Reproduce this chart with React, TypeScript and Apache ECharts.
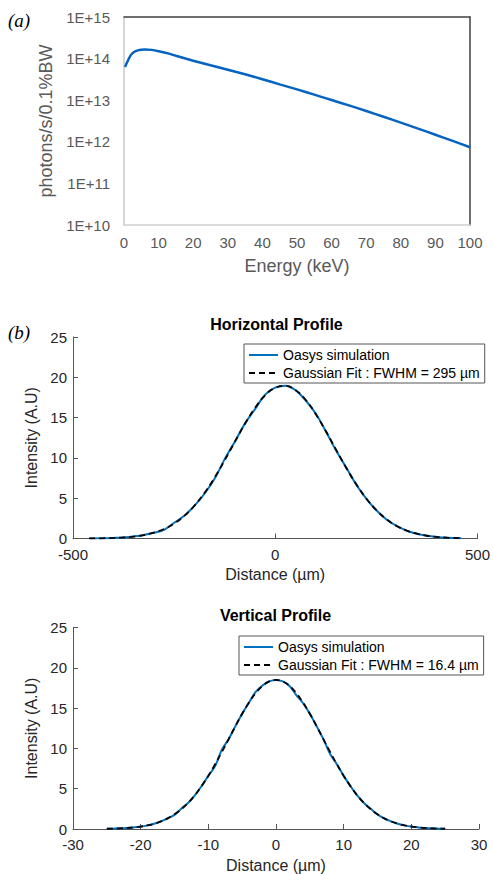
import React, { useEffect, useRef } from 'react';
import * as echarts from 'echarts';

// (a) photon spectrum
const energyKeV = [0.3, 1, 2, 3, 4, 5, 6, 8, 10, 13, 15, 20, 25, 30, 35, 40, 45, 50, 55, 60, 65, 70, 75, 80, 85, 90, 95, 100];
const flux = [6.3e13, 8.5e13, 1.23e14, 1.46e14, 1.58e14, 1.64e14, 1.66e14, 1.62e14, 1.51e14, 1.32e14, 1.17e14, 8.9e13, 6.9e13, 5.4e13, 4.2e13, 3.2e13, 2.4e13, 1.82e13, 1.36e13, 1.01e13, 7.5e12, 5.5e12, 4.0e12, 2.9e12, 2.07e12, 1.48e12, 1.05e12, 7.4e11];

// (b) horizontal profile
const hDist = [-460, -425, -400, -375, -350, -325, -300, -275, -250, -225, -200, -175, -150, -125, -100, -75, -50, -25, 0, 25, 50, 75, 100, 125, 150, 175, 200, 225, 250, 275, 300, 325, 350, 375, 400, 425, 460];
const hSim = [0.01, 0.03, 0.07, 0.13, 0.25, 0.43, 0.72, 1.08, 1.95, 2.82, 4.05, 5.55, 7.40, 9.85, 12.0, 14.25, 16.05, 17.85, 18.72, 18.95, 18.40, 17.15, 15.50, 13.30, 10.95, 8.85, 6.70, 4.95, 3.50, 2.36, 1.56, 0.98, 0.59, 0.34, 0.19, 0.10, 0.04];
const hFit = [0.01, 0.03, 0.07, 0.13, 0.24, 0.43, 0.73, 1.18, 1.85, 2.80, 4.06, 5.64, 7.55, 9.70, 11.98, 14.22, 16.21, 17.77, 18.71, 18.93, 18.42, 17.21, 15.45, 13.33, 11.06, 8.81, 6.76, 4.97, 3.52, 2.39, 1.56, 0.98, 0.59, 0.34, 0.19, 0.10, 0.04];

// (b) vertical profile
const vDist = [-25, -24, -23, -22, -21, -20, -19, -18, -17, -16, -15, -14, -13, -12, -11, -10, -9, -8, -7, -6, -5, -4, -3, -2, -1, 0, 1, 2, 3, 4, 5, 6, 7, 8, 9, 10, 11, 12, 13, 14, 15, 16, 17, 18, 19, 20, 21, 22, 23, 24, 25];
const vSim = [0.03, 0.05, 0.08, 0.13, 0.20, 0.30, 0.45, 0.65, 0.94, 1.32, 1.76, 2.52, 3.23, 4.18, 5.32, 6.59, 7.80, 9.85, 11.15, 12.76, 14.30, 15.68, 17.00, 17.80, 18.31, 18.50, 18.31, 17.75, 16.62, 15.60, 14.30, 12.76, 11.15, 9.30, 8.03, 6.59, 5.32, 4.18, 3.23, 2.50, 1.80, 1.32, 0.94, 0.65, 0.45, 0.30, 0.20, 0.13, 0.08, 0.05, 0.03];
const vFit = [0.03, 0.05, 0.08, 0.13, 0.20, 0.30, 0.45, 0.65, 0.94, 1.32, 1.82, 2.45, 3.23, 4.18, 5.32, 6.59, 8.03, 9.56, 11.15, 12.76, 14.30, 15.68, 16.86, 17.75, 18.31, 18.50, 18.31, 17.75, 16.86, 15.68, 14.30, 12.76, 11.15, 9.56, 8.03, 6.59, 5.32, 4.18, 3.23, 2.45, 1.82, 1.32, 0.94, 0.65, 0.45, 0.30, 0.20, 0.13, 0.08, 0.05, 0.03];

const simName = 'Oasys simulation';
const hFitName = 'Gaussian Fit : FWHM = 295 µm';
const vFitName = 'Gaussian Fit : FWHM = 16.4 µm';

export default function App() {
  const ref = useRef<HTMLDivElement>(null);
  useEffect(() => {
    const chart = echarts.init(ref.current!, null, { renderer: 'svg' });
    const font = '"Liberation Sans", Arial, sans-serif';
    const xlGray = '#595959';
    const mAxis = '#555555';
    const mText = '#262626';

    const profileX = (gridIndex: number, min: number, max: number, interval: number) => ({
      gridIndex, type: 'value', min, max, interval,
      axisLine: { show: true, onZero: false, lineStyle: { color: mAxis, width: 1 } },
      axisTick: { show: true, inside: true, length: 5, lineStyle: { color: mAxis } },
      axisLabel: { color: mText, fontSize: 15, fontFamily: font, margin: 8 },
      splitLine: { show: false },
      name: 'Distance (µm)', nameLocation: 'middle', nameGap: 28,
      nameTextStyle: { color: mText, fontSize: 16, fontFamily: font },
    });
    const profileY = (gridIndex: number) => ({
      gridIndex, type: 'value', min: 0, max: 25, interval: 5,
      axisLine: { show: true, onZero: false, lineStyle: { color: mAxis, width: 1 } },
      axisTick: { show: true, inside: true, length: 5, lineStyle: { color: mAxis } },
      axisLabel: { color: mText, fontSize: 15, fontFamily: font, margin: 6 },
      splitLine: { show: false },
      name: 'Intensity (A.U)', nameLocation: 'middle', nameGap: 25,
      nameTextStyle: { color: mText, fontSize: 16, fontFamily: font },
    });
    const legendBase = {
      orient: 'vertical', selectedMode: false,
      backgroundColor: '#fff', borderColor: '#555', borderWidth: 1,
      padding: [4, 5, 3, 4], itemGap: 4, itemWidth: 29, itemHeight: 14,
      itemStyle: { opacity: 0 },
      textStyle: { color: '#000', fontSize: 14, fontFamily: font, lineHeight: 14 },
    };
    const fitLine = { color: '#000', width: 1.8, type: [6, 4] };

    const option: any = {
      animation: false,
      backgroundColor: '#fff',
      grid: [
        { left: 124, top: 17, width: 346, height: 208 },
        { left: 73, top: 337, width: 407, height: 201.5 },
        { left: 73, top: 627.5, width: 406, height: 202 },
      ],
      xAxis: [
        {
          gridIndex: 0, type: 'value', min: 0, max: 100, interval: 10,
          axisLine: { show: true, onZero: false, lineStyle: { color: '#d0d0d0', width: 1.5 } },
          axisTick: { show: false },
          axisLabel: { color: xlGray, fontSize: 15, fontFamily: font, margin: 10 },
          splitLine: { show: false },
          name: 'Energy (keV)', nameLocation: 'middle', nameGap: 32,
          nameTextStyle: { color: xlGray, fontSize: 18, fontFamily: font },
        },
        {
          gridIndex: 0, type: 'value', position: 'top', min: 0, max: 100,
          axisLine: { show: true, onZero: false, lineStyle: { color: '#404040', width: 1.5 } },
          axisTick: { show: false }, axisLabel: { show: false }, splitLine: { show: false },
        },
        profileX(1, -500, 500, 500),
        profileX(2, -30, 30, 10),
      ],
      yAxis: [
        {
          gridIndex: 0, type: 'log', logBase: 10, min: 1e10, max: 1e15,
          axisLine: { show: true, onZero: false, lineStyle: { color: '#c8c8c8', width: 1.5 } },
          axisTick: { show: false },
          axisLabel: {
            color: xlGray, fontSize: 15, fontFamily: font, margin: 14,
            formatter: (v: number) => '1E+' + Math.round(Math.log10(v)),
          },
          splitLine: { show: false },
          name: 'photons/s/0.1%BW', nameLocation: 'middle', nameGap: 64,
          nameTextStyle: { color: xlGray, fontSize: 18, fontFamily: font },
        },
        {
          gridIndex: 0, type: 'value', position: 'right', min: 0, max: 1,
          axisLine: { show: true, onZero: false, lineStyle: { color: '#404040', width: 1.5 } },
          axisTick: { show: false }, axisLabel: { show: false }, splitLine: { show: false },
        },
        profileY(1),
        profileY(2),
      ],
      legend: [
        { ...legendBase, data: [simName, hFitName], left: 244, top: 344 },
        { ...legendBase, data: [simName, vFitName], left: 239, top: 636 },
      ],
      series: [
        {
          type: 'line', xAxisIndex: 0, yAxisIndex: 0, symbol: 'none', smooth: 0.3,
          data: energyKeV.map((e, i) => [e, flux[i]]),
          lineStyle: { color: '#0563C1', width: 2.5 },
        },
        {
          name: simName, type: 'line', xAxisIndex: 2, yAxisIndex: 2, symbol: 'none', smooth: 0.4,
          data: hDist.map((d, i) => [d, hSim[i]]),
          itemStyle: { color: '#0072BD' },
          lineStyle: { color: '#0072BD', width: 2 },
        },
        {
          name: hFitName, type: 'line', xAxisIndex: 2, yAxisIndex: 2, symbol: 'none', smooth: 0.4, z: 3,
          data: hDist.map((d, i) => [d, hFit[i]]),
          itemStyle: { color: '#000' },
          lineStyle: fitLine,
        },
        {
          name: simName, type: 'line', xAxisIndex: 3, yAxisIndex: 3, symbol: 'none', smooth: 0.4,
          data: vDist.map((d, i) => [d, vSim[i]]),
          itemStyle: { color: '#0072BD' },
          lineStyle: { color: '#0072BD', width: 2 },
        },
        {
          name: vFitName, type: 'line', xAxisIndex: 3, yAxisIndex: 3, symbol: 'none', smooth: 0.4, z: 3,
          data: vDist.map((d, i) => [d, vFit[i]]),
          itemStyle: { color: '#000' },
          lineStyle: fitLine,
        },
      ],
      graphic: [
        { type: 'text', left: 8, top: 11, style: { text: '(a)', fontSize: 19, fontStyle: 'italic', fontFamily: '"Liberation Serif", "Times New Roman", serif', fill: '#000' } },
        { type: 'text', left: 8, top: 323, style: { text: '(b)', fontSize: 19, fontStyle: 'italic', fontFamily: '"Liberation Serif", "Times New Roman", serif', fill: '#000' } },
        { type: 'text', x: 276.5, y: 324.5, style: { text: 'Horizontal Profile', fontSize: 16, fontWeight: 'bold', fontFamily: font, fill: '#000', align: 'center', verticalAlign: 'middle' } },
        { type: 'text', x: 275.5, y: 615, style: { text: 'Vertical Profile', fontSize: 16, fontWeight: 'bold', fontFamily: font, fill: '#000', align: 'center', verticalAlign: 'middle' } },
      ],
    };
    chart.setOption(option);
    return () => chart.dispose();
  }, []);
  return <div ref={ref} style={{ position: 'fixed', left: 0, top: 0, width: 493, height: 874, background: '#fff' }} />;
}
